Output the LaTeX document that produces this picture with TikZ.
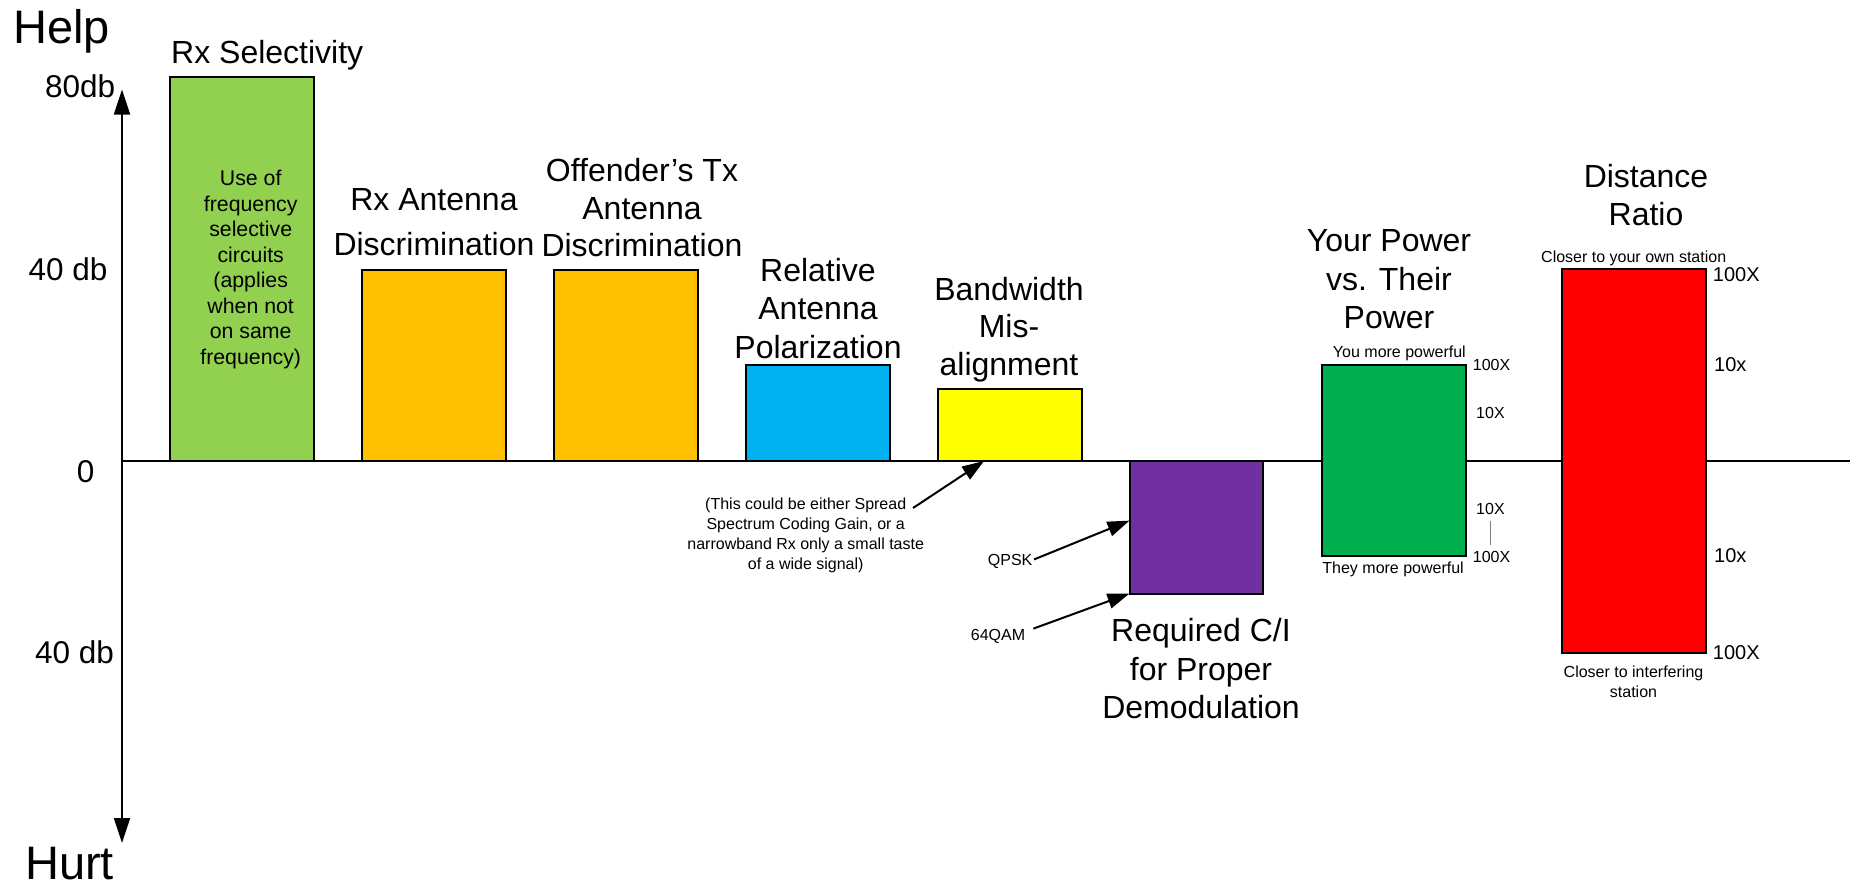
\documentclass[tikz,border=0pt]{standalone}
\usepackage{fontspec}
\setmainfont{Liberation Sans}
\usetikzlibrary{arrows.meta,calc}
\definecolor{cgreenA}{HTML}{92D050}
\definecolor{corange}{HTML}{FFC000}
\definecolor{cblue}{HTML}{00B0F0}
\definecolor{cyellow}{HTML}{FFFF00}
\definecolor{cpurple}{HTML}{7030A0}
\definecolor{cgreenB}{HTML}{00B050}
\definecolor{cred}{HTML}{FF0000}
\begin{document}
\begin{tikzpicture}[x=1pt,y=-1pt,
  bar/.style={draw=black, line width=2pt, inner sep=0pt, outer sep=0pt, minimum width=144pt},
  up/.style={bar, anchor=south west},
  down/.style={bar, anchor=north west},
  ttl/.style={font=\fontsize{32}{#1}\selectfont, align=center, inner sep=0pt, anchor=base},
  ttl/.default=38.3,
  big/.style={font=\fontsize{47}{50}\selectfont, inner sep=0pt, anchor=base west},
  axlab/.style={font=\fontsize{31.5}{36}\selectfont, inner sep=0pt, anchor=base west},
  smalltxt/.style={font=\fontsize{16}{19.5}\selectfont, inner sep=0pt},
  midtxt/.style={font=\fontsize{20}{24}\selectfont, inner sep=0pt, anchor=base west},
  ann/.style={line width=2pt, -{Triangle[length=22pt,width=15pt]}},
  axarrow/.style={line width=1.8pt, -{Triangle[length=25pt,width=16pt]}}
]
\useasboundingbox (0,0) rectangle (1854,887);

% axes
\coordinate (origin) at (122,461);
\coordinate (ytop) at (122,89.5);
\coordinate (ybot) at (122,843);
\coordinate (xend) at (1850,461);
\draw[line width=2.2pt] (origin) -- (xend);
\draw[axarrow] (origin) -- (ytop);
\draw[axarrow] (origin) -- (ybot);

\node[big] (help) at (13,43) {Help};
\node[big] (hurt) at (25,879.5) {Hurt};
\node[axlab] (l80) at (45,97.5) {80db};
\node[axlab] (l40a) at (28.3,280) {40 db};
\node[axlab] (l0) at (76.7,482.3) {0};
\node[axlab] (l40b) at (35,663.3) {40 db};

% bars
\node[up, fill=cgreenA, minimum height=384pt] (sel) at (170,461) {};
\node[up, fill=corange, minimum height=191pt] (rxant) at (362,461) {};
\node[up, fill=corange, minimum height=191pt] (offtx) at (554,461) {};
\node[up, fill=cblue, minimum height=96pt] (pol) at (746,461) {};
\node[up, fill=cyellow, minimum height=72pt] (bw) at (938,461) {};
\node[down, fill=cpurple, minimum width=133pt, minimum height=132.5pt] (cir) at (1129.5,461) {};
\node[down, fill=cgreenB, minimum height=191.5pt] (pow) at (1322,364.5) {};
\node[down, fill=cred, minimum height=383.4pt] (dist) at (1562,269.3) {};

% texts in / above bars (base anchor = baseline of last line)
\node[font=\fontsize{21.3}{25.5}\selectfont, align=center, inner sep=0pt, anchor=base] (seltxt) at (250.7,364.3)
  {Use of\\frequency\\selective\\circuits\\(applies\\when not\\on same\\frequency)};
\node[ttl, anchor=base west] (selT) at (171,63) {Rx Selectivity};
\node[ttl=44.3] (rxantT) at (434,255) {Rx Antenna\\Discrimination};
\node[ttl=37.5] (offT) at (642,256.7) {Offender’s Tx\\Antenna\\Discrimination};
\node[ttl=38.6] (polT) at (818,358.5) {Relative\\Antenna\\Polarization};
\node[ttl=37.5] (bwT) at (1009,375) {Bandwidth\\Mis-\\alignment};
\node[ttl] (cirT) at (1201,718.3) {Required C/I\\for Proper\\Demodulation};
\node[ttl] (powT) at (1389,328.3) {Your Power\\vs. Their\\Power};
\node[ttl=38.4] (distT) at (1646,225.7) {Distance\\Ratio};

% annotation
\node[smalltxt, align=center, anchor=base, font=\fontsize{16}{20}\selectfont] (note) at (805.7,569)
  {(This could be either Spread\\Spectrum Coding Gain, or a\\narrowband Rx only a small taste\\of a wide signal)};
\coordinate (notestart) at (913,508);
\draw[ann] (notestart) -- ($(bw.south west)!0.32!(bw.south east)$);

\node[smalltxt, anchor=base west] (qpsk) at (987.7,565) {QPSK};
\node[smalltxt, anchor=base west] (qam) at (970.7,640) {64QAM};
\draw[ann] ($(qpsk.east)+(1.5,-1.5)$) -- ($(cir.north west)!0.45!(cir.south west)$);
\draw[ann] ($(qam.north east)+(8,0)$) -- (cir.south west);

% power labels
\node[smalltxt, anchor=base east] (youmore) at (1466,357.3) {You more powerful};
\node[smalltxt, anchor=base east] (theymore) at (1464,573.3) {They more powerful};
\node[smalltxt, anchor=base west] (p100a) at (1472.7,370) {100X};
\node[smalltxt, anchor=base west] (p10a) at (1476,418.3) {10X};
\node[smalltxt, anchor=base west] (p10b) at (1476,514.3) {10X};
\node[smalltxt, anchor=base west] (p100b) at (1472.7,562.3) {100X};
\draw[gray, line width=1.2pt, shorten <=6pt, shorten >=6pt] (p10b.south) -- (p10b.south |- p100b.north);

% distance labels
\node[smalltxt, anchor=base] (closeown) at (1633.7,262.7) {Closer to your own station};
\node[smalltxt, align=center, anchor=base] (closeint) at (1633.5,697) {Closer to interfering\\station};
\node[midtxt] (d100a) at (1712.7,281) {100X};
\node[midtxt] (d10a) at (1714,371.7) {10x};
\node[midtxt] (d10b) at (1714,562.7) {10x};
\node[midtxt] (d100b) at (1712.7,659) {100X};
\end{tikzpicture}
\end{document}
